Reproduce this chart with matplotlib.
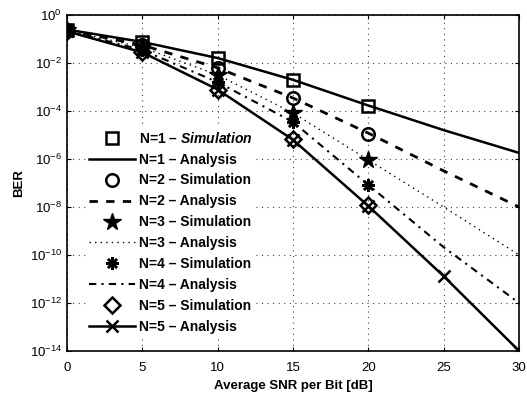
import matplotlib
matplotlib.use("Agg")
import matplotlib.pyplot as plt
from matplotlib.ticker import FixedLocator, NullLocator

plt.rcParams['font.family'] = ['Liberation Sans', 'DejaVu Sans']
plt.rcParams['mathtext.fontset'] = 'custom'
plt.rcParams['mathtext.rm'] = 'Liberation Sans'
plt.rcParams['mathtext.it'] = 'Liberation Sans:bold:italic'
plt.rcParams['mathtext.bf'] = 'Liberation Sans:bold'

snr = [0, 5, 10, 15, 20, 25, 30]
snr_sim = [0, 5, 10, 15, 20]

ana_n1 = [0.25, 0.076, 0.0162, 2.0e-3, 1.7e-4, 1.6e-5, 1.8e-6]
ana_n2 = [0.24, 0.056, 6.3e-3, 3.5e-4, 1.2e-5, 3.2e-7, 1.0e-8]
ana_n3 = [0.23, 0.045, 3.2e-3, 8.3e-5, 9.1e-7, 1.0e-8, 1.0e-10]
ana_n4 = [0.22, 0.035, 1.6e-3, 3.5e-5, 8.3e-8, 2.1e-10, 1.0e-12]
ana_n5 = [0.21, 0.028, 7.9e-4, 6.3e-6, 1.1e-8, 1.3e-11, 1.0e-14]

sim_n1 = [0.25, 0.076, 0.0162, 2.0e-3, 1.7e-4]
sim_n2 = [0.24, 0.056, 6.3e-3, 3.5e-4, 1.15e-5]
sim_n3 = [0.23, 0.045, 3.2e-3, 8.3e-5, 9.1e-7]
sim_n4 = [0.22, 0.035, 1.6e-3, 3.5e-5, 8.3e-8]
sim_n5 = [0.21, 0.028, 7.9e-4, 7.0e-6, 1.25e-8]

labels = ["N=1 \u2013 $\\mathit{Simulation}$", "N=1 \u2013 Analysis",
          "N=2 \u2013 Simulation", "N=2 \u2013 Analysis",
          "N=3 \u2013 Simulation", "N=3 \u2013 Analysis",
          "N=4 \u2013 Simulation", "N=4 \u2013 Analysis",
          "N=5 \u2013 Simulation", "N=5 \u2013 Analysis"]

fig = plt.figure(figsize=(5.27, 3.97), dpi=100)
ax = fig.add_axes([0.127, 0.116, 0.858, 0.846])

k = 'black'
ax.semilogy(snr_sim, sim_n1, ls='none', marker='s', ms=8.5, mfc='none', mec=k, mew=1.8, label=labels[0])
ax.semilogy(snr, ana_n1, ls='-', color=k, lw=1.8, label=labels[1])
ax.semilogy(snr_sim, sim_n2, ls='none', marker='o', ms=9, mfc='none', mec=k, mew=1.8, label=labels[2])
ax.semilogy(snr, ana_n2, ls=(0, (3, 3)), color=k, lw=2.0, label=labels[3])
ax.semilogy(snr_sim, sim_n3, ls='none', marker='*', ms=13, mfc=k, mec=k, mew=1.0, label=labels[4])
ax.semilogy(snr, ana_n3, ls=(0, (1, 3)), color=k, lw=1.0, label=labels[5])
ax.semilogy(snr_sim, sim_n4, ls='none', marker=(8, 2, 0), ms=9, mfc=k, mec=k, mew=1.8, label=labels[6])
ax.semilogy(snr, ana_n4, ls=(0, (3.5, 2.5, 1, 2.5)), color=k, lw=1.5, label=labels[7])
ax.semilogy(snr_sim, sim_n5, ls='none', marker='D', ms=8, mfc='none', mec=k, mew=1.8, label=labels[8])
ax.semilogy(snr, ana_n5, ls='-', color=k, lw=1.8, marker='x', ms=8, mew=1.8, label=labels[9])

ax.set_xlim(0, 30)
ax.set_ylim(1e-14, 1)
ax.set_xticks([0, 5, 10, 15, 20, 25, 30])
ax.yaxis.set_major_locator(FixedLocator([1e-14, 1e-12, 1e-10, 1e-8, 1e-6, 1e-4, 1e-2, 1]))
ax.yaxis.set_minor_locator(NullLocator())
ax.grid(True, which='major', color='#444444', ls=(0, (1, 4)), lw=0.8)
ax.tick_params(direction='in', length=3, labelsize=9.5, colors=k, top=True, right=True)
ax.tick_params(axis='x', pad=8)
for s in ax.spines.values():
    s.set_linewidth(1.2)

ax.set_xlabel('Average SNR per Bit [dB]', fontsize=9.5, fontweight='bold', labelpad=4)
ax.set_ylabel('BER', fontsize=9.5, fontweight='bold', labelpad=3)

leg = ax.legend(loc='upper left', bbox_to_anchor=(0.028, 0.685), frameon=True,
                prop={'weight': 'bold', 'size': 10},
                handlelength=3.3, handletextpad=0.25, labelspacing=0.5,
                borderpad=0.2, numpoints=1)
leg.get_frame().set_edgecolor('none')
leg.get_frame().set_facecolor('white')
leg.get_frame().set_alpha(1.0)

fig.savefig('out.png', dpi=100)
